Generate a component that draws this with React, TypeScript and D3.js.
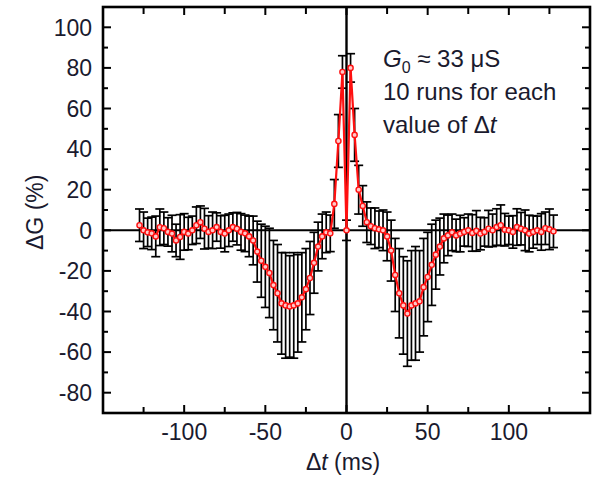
import React from "react";
import * as d3 from "d3";

// Δt grid (ms)
const deltaT: number[] = [
  -127.5, -125, -122.5, -120, -117.5, -115, -112.5, -110, -107.5, -105, -102.5, -100,
  -97.5, -95, -92.5, -90, -87.5, -85, -82.5, -80, -77.5, -75, -72.5, -70, -67.5, -65,
  -62.5, -60, -57.5, -55, -52.5, -50, -47.5, -45, -42.5, -40, -37.5, -35, -32.5, -30,
  -27.5, -25, -22.5, -20, -17.5, -15, -12.5, -10, -7.5, -5, -2.5, 0,
  2.5, 5, 7.5, 10, 12.5, 15, 17.5, 20, 22.5, 25, 27.5, 30, 32.5, 35, 37.5, 40, 42.5,
  45, 47.5, 50, 52.5, 55, 57.5, 60, 62.5, 65,
  67.5, 70, 72.5, 75, 77.5, 80, 82.5, 85, 87.5, 90, 92.5, 95, 97.5, 100, 102.5, 105,
  107.5, 110, 112.5, 115, 117.5, 120, 122.5, 125, 127.5,
];

// ΔG (%) mean values
const deltaG: number[] = [
  2.5, 0, -1, -1.5, -3, 1.5, 1, -0.8, -1.6, -5, -3.3, -0.8,
  -1.6, 0, 2.5, 4, 0.8, -0.8, 0, 1.6, -0.8, -1.6, 0, 1.6, 0.8, -0.8,
  -1.5, -3, -5, -10.5, -15, -18, -21, -27, -31, -36, -37, -37.5, -37, -36,
  -33, -29, -23.5, -16, -8, -3, -1, -1.5, 13, 44, 78, 0,
  80, 47, 20, 12, 4, 2, 1, 0.5, 0, -3, -10, -22, -31, -37, -41, -37, -36,
  -35, -28, -23, -17, -12, -8, -4, -2.5, -1,
  -2.5, -1.6, -0.8, 0, -1.3, -0.3, -1.6, -0.8, 0.8, 0, 1.6, 2.5, 0.3, 0, -0.8, 1.6,
  0.8, 0, -1.6, -0.8, 0, -0.8, 1, 0.5, -0.5,
];

// error bar half-lengths (%)
const errG: number[] = [
  8, 9, 7, 8, 10, 9, 8, 7, 9, 8, 11, 9,
  8, 7, 9, 8, 10, 8, 9, 7, 8, 9, 8, 7, 8, 9,
  9, 10, 12, 15, 18, 20, 22, 22, 24, 25, 26, 25, 26, 24,
  22, 20, 18, 15, 12, 11, 10, 9, 12, 13, 8, 5,
  7, 13, 12, 10, 10, 9, 10, 9, 10, 12, 15, 18, 22, 24, 26, 27, 28,
  25, 24, 22, 20, 17, 14, 12, 10, 9,
  8, 9, 7, 8, 9, 10, 8, 7, 9, 8, 9, 10, 8, 7, 8, 9,
  8, 10, 9, 8, 7, 9, 8, 10, 8,
];

const xMajorTicks = [-100, -50, 0, 50, 100];
const xMinorTicks = [-125, -75, -25, 25, 75, 125];
const yMajorTicks = [-80, -60, -40, -20, 0, 20, 40, 60, 80, 100];
const yMinorTicks = [-90, -70, -50, -30, -10, 10, 30, 50, 70, 90];

const annotation = ["10 runs for each"];

export default function App() {
  const W = 600, H = 479;
  const left = 103, right = 590, top = 7, bottom = 413;
  const x = d3.scaleLinear().domain([-150, 150]).range([left, right]);
  const y = d3.scaleLinear().domain([-90, 110]).range([bottom, top]);
  const data = deltaT.map((t, i) => ({ t, g: deltaG[i], e: errG[i] }));
  const line = d3.line<{ t: number; g: number }>().x((d) => x(d.t)).y((d) => y(d.g));
  const font = "'Liberation Sans', Arial, sans-serif";
  const txt = "#1a1a2e";
  const fs = 23;
  const cap = 4.5;

  return (
    <svg width={W} height={H} style={{ position: "absolute", left: 0, top: 0, background: "#fff" }} fontFamily={font}>
      <defs>
        <clipPath id="plotclip">
          <rect x={left} y={top} width={right - left} height={bottom - top} />
        </clipPath>
      </defs>
      {/* zero lines */}
      <line x1={left} x2={right} y1={y(0)} y2={y(0)} stroke="#000" strokeWidth={2} />
      <line x1={x(0)} x2={x(0)} y1={top} y2={bottom} stroke="#000" strokeWidth={2.4} />
      {/* error bars */}
      <g stroke="#000" strokeWidth={1.7} clipPath="url(#plotclip)">
        {data.map((d, i) => (
          <g key={i}>
            <line x1={x(d.t)} x2={x(d.t)} y1={y(d.g - d.e)} y2={y(d.g + d.e)} />
            <line x1={x(d.t) - cap} x2={x(d.t) + cap} y1={y(d.g - d.e)} y2={y(d.g - d.e)} />
            <line x1={x(d.t) - cap} x2={x(d.t) + cap} y1={y(d.g + d.e)} y2={y(d.g + d.e)} />
          </g>
        ))}
      </g>
      {/* red line */}
      <path d={line(data) || ""} fill="none" stroke="#ff1010" strokeWidth={2.2} />
      {/* markers */}
      <g>
        {data.map((d, i) => (
          <circle key={i} cx={x(d.t)} cy={y(d.g)} r={2.6} fill="#ffc8c8" stroke="#ff1010" strokeWidth={1.4} />
        ))}
      </g>
      {/* frame */}
      <rect x={left} y={top} width={right - left} height={bottom - top} fill="none" stroke="#000" strokeWidth={2.6} />
      {/* ticks */}
      <g stroke="#000" strokeWidth={2}>
        {xMajorTicks.map((t) => (
          <g key={"xM" + t}>
            <line x1={x(t)} x2={x(t)} y1={bottom} y2={bottom - 8} />
            <line x1={x(t)} x2={x(t)} y1={top} y2={top + 8} />
          </g>
        ))}
        {xMinorTicks.map((t) => (
          <g key={"xm" + t}>
            <line x1={x(t)} x2={x(t)} y1={bottom} y2={bottom - 6} />
            <line x1={x(t)} x2={x(t)} y1={top} y2={top + 7} />
          </g>
        ))}
        {yMajorTicks.map((t) => (
          <g key={"yM" + t}>
            <line x1={left} x2={left + 8} y1={y(t)} y2={y(t)} />
            <line x1={right} x2={right - 8} y1={y(t)} y2={y(t)} />
          </g>
        ))}
        {yMinorTicks.map((t) => (
          <g key={"ym" + t}>
            <line x1={left} x2={left + 5} y1={y(t)} y2={y(t)} />
            <line x1={right} x2={right - 5} y1={y(t)} y2={y(t)} />
          </g>
        ))}
      </g>
      {/* tick labels */}
      <g fill={txt} fontSize={fs}>
        {xMajorTicks.map((t) => (
          <text key={"xl" + t} x={x(t)} y={440} textAnchor="middle">{t}</text>
        ))}
        {yMajorTicks.map((t) => (
          <text key={"yl" + t} x={92} y={y(t)} dy="0.36em" textAnchor="end">{t}</text>
        ))}
      </g>
      {/* axis titles */}
      <text x={343} y={470} textAnchor="middle" fill={txt} fontSize={fs}>
        Δ<tspan fontStyle="italic">t</tspan> (ms)
      </text>
      <text transform={`translate(43, ${y(0) - 18}) rotate(-90)`} textAnchor="middle" fill={txt} fontSize={fs}>
        ΔG (%)
      </text>
      {/* annotation */}
      <g fill={txt} fontSize={24}>
        <text x={383} y={67}>
          <tspan fontStyle="italic">G</tspan>
          <tspan fontSize={16} dy={6}>0</tspan>
          <tspan dy={-6}> ≈ 33 μS</tspan>
        </text>
        <text x={383} y={100}>{annotation[0]}</text>
        <text x={383} y={133}>
          value of Δ<tspan fontStyle="italic">t</tspan>
        </text>
      </g>
    </svg>
  );
}
